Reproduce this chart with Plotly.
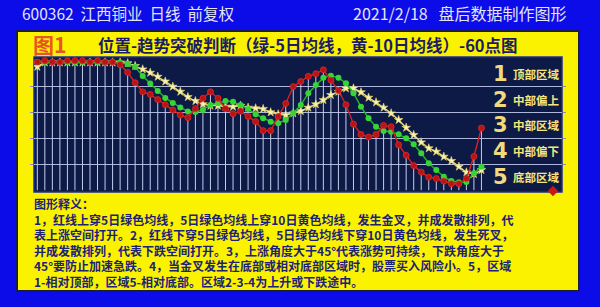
import plotly.graph_objects as go

W, H = 600, 307

# ---- data (0-100 relative position scale) ----
idx = list(range(60))
red = [99, 100, 99, 99, 100, 100, 100, 99, 100, 99, 99, 97, 91, 83, 76, 74, 70, 66, 62, 58,
       56, 63, 71, 76, 71, 63, 59, 61, 57, 53, 46, 46, 57, 67, 80, 84, 88, 90, 93, 85,
       77, 66, 51, 43, 41, 43, 50, 49, 35, 27, 19, 14, 10, 9, 7, 5, 5, 9, 26, 48]
ma5 = [99, 99, 99, 99, 99, 99, 99, 99, 99, 99, 99, 98.7, 97.5, 95.2, 88.3, 82.5, 76.7, 71.3, 67.4, 63.9,
       60.8, 60.4, 62, 65.8, 67.2, 68.9, 68.4, 65.8, 62.8, 58.7, 55.6, 52.9, 51.7, 54.3, 59.7, 65.8, 74.9, 81.3, 86.9, 88.5,
       86.9, 82.6, 74.9, 64.5, 55.6, 49.1, 45.7, 45.2, 43.2, 40.1, 35.5, 28.5, 20.8, 15.6, 10.4, 7.1, 6.1, 6.3, 13.1, 18.2]
ma10 = [95.4, 98.7, 98.7, 98.7, 98.7, 98.7, 98.7, 98.7, 98.7, 98.7, 98.7, 98.7, 98.1, 96, 93.4, 90.8, 87.7, 84, 80, 76.1,
        72, 68.9, 66.5, 65.3, 65.3, 64.5, 64.5, 65.3, 63.8, 63.3, 62.8, 60.2, 58.7, 58.1, 59.4, 61.2, 63.8, 66.4, 69.7, 73.6,
        76.1, 78.7, 78.7, 75.7, 71.5, 67.9, 63.8, 59.4, 54.3, 48.3, 42.7, 37, 32.4, 29.8, 25.9, 22.6, 18.2, 13.8, 12.5, 15.6]
extra_x = [68.5]
extra_y = [-0.6]

zone_nums = ["1", "2", "3", "4", "5"]
zone_names = ["顶部区域", "中部偏上", "中部区域", "中部偏下", "底部区域"]
zone_mid = [90, 70, 50, 30, 10]

header_left = "600362  江西铜业  日线  前复权"
header_right = "2021/2/18   盘后数据制作图形"
fig_tag = "图1"
title = "位置-趋势突破判断（绿-5日均线，黄-10日均线）-60点图"
notes = [
    "图形释义：",
    "1，红线上穿5日绿色均线，5日绿色均线上穿10日黄色均线，发生金叉，并成发散排列，代",
    "表上涨空间打开。2，红线下穿5日绿色均线，5日绿色均线下穿10日黄色均线，发生死叉，",
    "并成发散排列，代表下跌空间打开。3，上涨角度大于45°代表涨势可持续，下跌角度大于",
    "45°要防止加速急跌。4，当金叉发生在底部或相对底部区域时，股票买入风险小。5，区域",
    "1-相对顶部，区域5-相对底部。区域2-3-4为上升或下跌途中。",
]

CJK = "Noto Sans CJK SC"


def px(x):
    return x / W


def py(y):
    return 1 - y / H


fig = go.Figure()

# stems from red points down to the bottom
fig.add_trace(go.Scatter(
    x=idx, y=red, mode="markers", marker=dict(size=1, color="rgba(0,0,0,0)"),
    error_y=dict(type="data", symmetric=False, array=[0] * len(red), arrayminus=red,
                 color="#c4cbec", thickness=1, width=0),
    hoverinfo="skip", showlegend=False))

fig.add_trace(go.Scatter(
    x=idx, y=ma10, mode="lines+markers",
    line=dict(color="#e8dc78", width=1.4),
    marker=dict(symbol="star", size=6.5, color="#f6f2b8", line=dict(color="#e0d060", width=0.6)),
    showlegend=False))
fig.add_trace(go.Scatter(
    x=idx, y=ma5, mode="lines+markers",
    line=dict(color="#22b822", width=1.4),
    marker=dict(symbol="circle", size=6, color="#36d436"),
    showlegend=False))
fig.add_trace(go.Scatter(
    x=idx, y=red, mode="lines+markers",
    line=dict(color="#d82020", width=1.4),
    marker=dict(symbol="circle", size=6, color="#b81414", line=dict(color="#e02a2a", width=0.8)),
    showlegend=False))
fig.add_trace(go.Scatter(
    x=extra_x, y=extra_y, mode="markers", cliponaxis=False,
    marker=dict(symbol="diamond", size=8, color="#c81818"),
    showlegend=False))

shapes = [
    # yellow panel
    dict(type="rect", xref="paper", yref="paper", x0=px(17), x1=px(579), y0=py(291), y1=py(31),
         fillcolor="#fbf200", line=dict(color="#1c1c48", width=2), layer="below"),
    # navy plot area
    dict(type="rect", xref="paper", yref="paper", x0=px(34), x1=px(562), y0=py(192), y1=py(57),
         fillcolor="#0e1a46", line=dict(color="#1e2c96", width=1.5), layer="below"),
]

ann = []
ann.append(dict(x=px(20), y=py(13), xref="paper", yref="paper", text=header_left, showarrow=False,
                xanchor="left", yanchor="middle", font=dict(family=CJK, size=15.5, color="#e4e4f2")))
ann.append(dict(x=px(568), y=py(13), xref="paper", yref="paper", text=header_right, showarrow=False,
                xanchor="right", yanchor="middle", font=dict(family=CJK, size=16, color="#e4e4f2")))
ann.append(dict(x=px(31), y=py(44), xref="paper", yref="paper", text=fig_tag, showarrow=False,
                xanchor="left", yanchor="middle",
                font=dict(family=CJK, size=21, color="#e8542a", weight="bold")))
ann.append(dict(x=px(96), y=py(45), xref="paper", yref="paper", text=title, showarrow=False,
                xanchor="left", yanchor="middle",
                font=dict(family=CJK, size=16.5, color="#1c1c66", weight="bold")))
ann.append(dict(x=px(32), y=py(193), xref="paper", yref="paper", text="<br>".join(notes),
                showarrow=False, xanchor="left", yanchor="top", align="left",
                font=dict(family=CJK, size=12, color="#1c2278", weight="bold")))
for n, name, m in zip(zone_nums, zone_names, zone_mid):
    ann.append(dict(x=61.5, y=m, xref="x", yref="y", text=n, showarrow=False,
                    xanchor="center", yanchor="middle",
                    font=dict(family="DejaVu Sans", size=21, color="#f0da7c", weight="bold")))
    ann.append(dict(x=66.3, y=m, xref="x", yref="y", text=name, showarrow=False,
                    xanchor="center", yanchor="middle",
                    font=dict(family=CJK, size=11.5, color="#f4e67a", weight="bold")))

fig.update_layout(
    width=W, height=H,
    margin=dict(l=0, r=0, t=0, b=0),
    paper_bgcolor="#0c0ce8",
    plot_bgcolor="#0e1a46",
    shapes=shapes,
    annotations=ann,
    xaxis=dict(domain=[px(34), px(562)], range=[-0.44, 69.7], showgrid=False, zeroline=False,
               showticklabels=False, ticks=""),
    yaxis=dict(domain=[py(192), py(57)], range=[-1.4, 102.9], tickvals=[20, 40, 60, 80],
               showgrid=True, gridcolor="#aeb6dc", gridwidth=1, zeroline=False,
               showticklabels=False, ticks="outside", ticklen=3, tickcolor="#8890b0", mirror="ticks"),
)

fig.write_html("out.html")
